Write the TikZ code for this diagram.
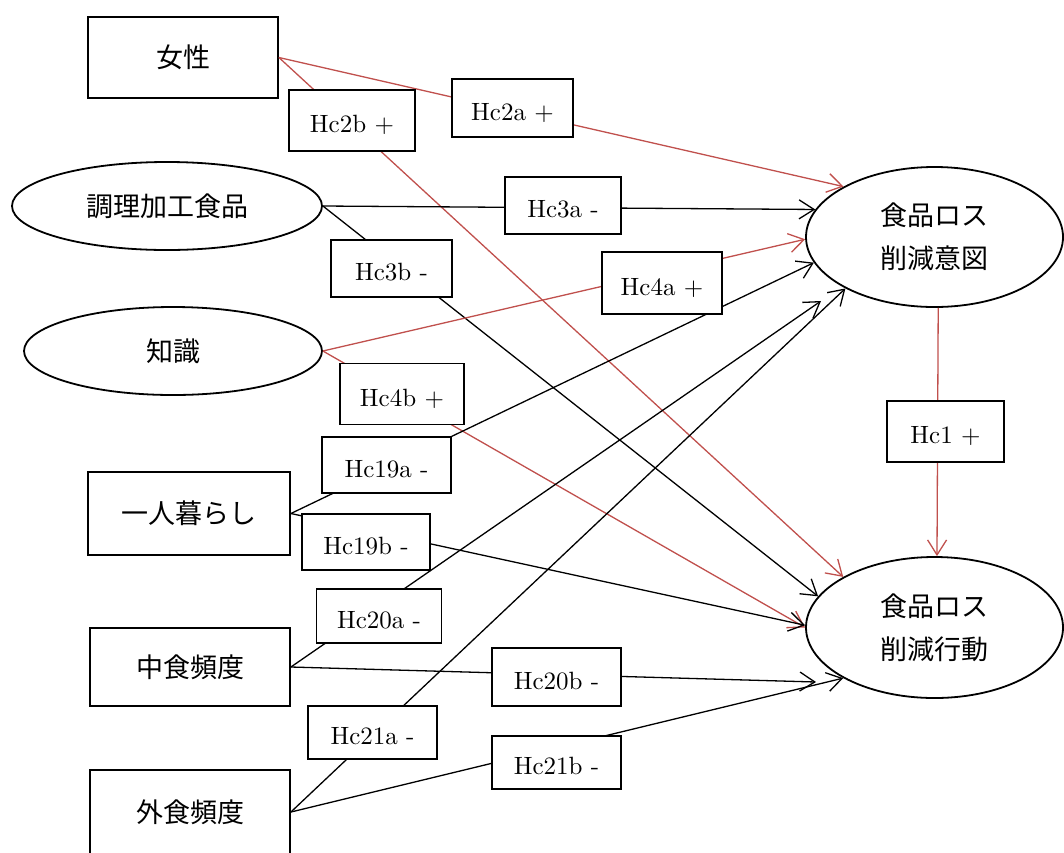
\documentclass[tikz,border=0pt]{standalone}
\usepackage{fontspec}
\newfontfamily\jp{Noto Sans CJK JP}
\newfontfamily\labfont[Extension=.otf]{lmroman10-regular}
\usetikzlibrary{shapes.geometric,arrows.meta,calc}
\definecolor{pathred}{RGB}{192,80,77}
\tikzset{
  x=1pt, y=-1pt,
  box/.style={draw, line width=1.8pt, rectangle, inner sep=0pt, align=center,
    font=\jp\fontsize{27}{43}\selectfont},
  oval/.style={draw, line width=1.8pt, ellipse, inner sep=0pt, align=center,
    font=\jp\fontsize{27}{43}\selectfont},
  lab/.style={draw, line width=1.4pt, fill=white, rectangle, inner sep=0pt,
    text height=26pt, text depth=2pt,
    font=\labfont\fontsize{25}{28}\selectfont},
  link/.style={line width=1.3pt,
    -{Straight Barb[length=15pt,width=19pt,line width=1.3pt]}},
  redpath/.style={draw=pathred},
}
\begin{document}
\begin{tikzpicture}
\useasboundingbox (0,0) rectangle (1064,852);
\clip (0,0) rectangle (1064,852);

% explanatory variables
\node[box, minimum width=190pt, minimum height=81pt] (jo) at (183,57.5) {女性};
\node[oval, minimum width=310pt, minimum height=88pt] (chori) at (167,206) {調理加工食品};
\node[oval, minimum width=298pt, minimum height=88pt] (chishiki) at (173,351) {知識};
\node[box, minimum width=202pt, minimum height=83pt] (hitori) at (189,513.5) {一人暮らし};
\node[box, minimum width=200pt, minimum height=78pt] (naka) at (190,667) {中食頻度};
\node[box, minimum width=200pt, minimum height=84pt] (gai) at (190,812) {外食頻度};

% outcomes
\node[oval, minimum width=257pt, minimum height=140pt] (ito) at (934.5,237) {食品ロス\\削減意図};
\node[oval, minimum width=257pt, minimum height=141pt] (kodo) at (934.5,627.5) {食品ロス\\削減行動};

% arrow ends that stop short of the ellipse
\coordinate (t20a) at (821,301);
\coordinate (t20b) at (816,682);

% paths
\draw[link, redpath] (jo.east) -- (ito.151);
\draw[link, redpath] (jo.east) -- (kodo.151);
\draw[link] (chori.east) -- (ito.167);
\draw[link] (chori.east) -- (kodo.165);
\draw[link, redpath] (chishiki.east) -- (ito.181);
\draw[link, redpath] (chishiki.east) -- (kodo.180);
\draw[link] (hitori.east) -- (ito.192);
\draw[link] (hitori.east) -- (kodo.179);
\draw[link] (naka.east) -- (t20a);
\draw[link] (naka.east) -- (t20b);
\draw[link] (gai.east) -- (ito.210);
\draw[link] (gai.east) -- (kodo.209);
\draw[link, redpath] (ito.273) -- (kodo.88);

% hypothesis labels
\node[lab, minimum width=121pt, minimum height=58pt] (h2a) at (512.5,108) {Hc2a +};
\node[lab, minimum width=126pt, minimum height=61pt] (h2b) at (352,120.5) {Hc2b +};
\node[lab, minimum width=116pt, minimum height=57pt] (h3a) at (563,205.5) {Hc3a -};
\node[lab, minimum width=121pt, minimum height=57pt] (h3b) at (391.5,268.5) {Hc3b -};
\node[lab, minimum width=120pt, minimum height=62pt] (h4a) at (662,283) {Hc4a +};
\node[lab, minimum width=124pt, minimum height=61pt] (h4b) at (402,394) {Hc4b +};
\node[lab, minimum width=129pt, minimum height=56pt] (h19a) at (386.5,465) {Hc19a -};
\node[lab, minimum width=128pt, minimum height=56pt] (h19b) at (366,542) {Hc19b -};
\node[lab, minimum width=125pt, minimum height=54pt] (h20a) at (379,616) {Hc20a -};
\node[lab, minimum width=129pt, minimum height=58pt] (h20b) at (556.5,677) {Hc20b -};
\node[lab, minimum width=129pt, minimum height=53pt] (h21a) at (372.5,732.5) {Hc21a -};
\node[lab, minimum width=129pt, minimum height=53pt] (h21b) at (556.5,762.5) {Hc21b -};
\node[lab, minimum width=117pt, minimum height=61pt] (h1) at (945.5,431.5) {Hc1 +};
\end{tikzpicture}
\end{document}
